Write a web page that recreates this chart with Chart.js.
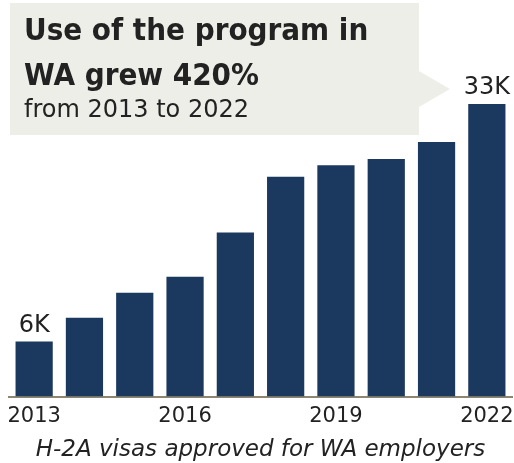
<!DOCTYPE html>
<html>
<head>
<meta charset="utf-8">
<script src="https://cdn.jsdelivr.net/npm/chart.js@4"></script>
<style>
  html, body { margin: 0; padding: 0; background: #fff; }
  #wrap { position: relative; width: 514px; height: 463px; overflow: hidden; }
  #wrap canvas { position: absolute; left: 0; top: 0; }
  /* callout box with its pointer */
  .callout {
    position: absolute; left: 10px; top: 3px; width: 409px; height: 132px;
    background: #eeeee9; font-family: "DejaVu Sans", sans-serif; color: #222;
  }
  .callout::after {
    content: ""; position: absolute; left: 409px; top: 68px;
    border-top: 18px solid transparent; border-bottom: 18px solid transparent;
    border-left: 31px solid #eeeee9;
  }
  .callout .hed {
    position: absolute; left: 14px; top: 4px; white-space: nowrap;
    font-family: "DejaVu Sans Condensed", "DejaVu Sans", sans-serif;
    font-size: 31px; font-weight: bold; line-height: 45px;
  }
  .callout .dek { position: absolute; left: 14px; top: 92px; white-space: nowrap; font-size: 24px; line-height: 28px; }
</style>
</head>
<body>
<div id="wrap">
  <canvas id="chart-visas"></canvas>
  <div class="callout">
    <div class="hed">Use of the program in<br>WA grew 420%</div>
    <div class="dek">from 2013 to 2022</div>
  </div>
</div>
<script>
/* ── Data ─────────────────────────────────────────────────────────── */
const years       = ['2013', '2014', '2015', '2016', '2017', '2018', '2019', '2020', '2021', '2022'];
const visas       = [6200, 8900, 11700, 13500, 18500, 24800, 26100, 26800, 28700, 33000];
const valueLabels = ['6K', '', '', '', '', '', '', '', '', '33K'];
const shownTicks  = ['2013', '2016', '2019', '2022'];
const caption     = 'H-2A visas approved for WA employers';

const BAR  = '#1b385e';
const AXIS = '#8c8672';
const INK  = '#222';
const FONT = '"DejaVu Sans", sans-serif';

/* first / last value labels above the bars */
const valueLabelPlugin = {
  id: 'valueLabels',
  afterDatasetsDraw(chart) {
    const { ctx } = chart;
    const meta = chart.getDatasetMeta(0);
    ctx.save();
    ctx.font = `24px ${FONT}`;
    ctx.fillStyle = INK;
    ctx.textAlign = 'center';
    ctx.textBaseline = 'alphabetic';
    meta.data.forEach((bar, i) => {
      if (!valueLabels[i]) return;
      ctx.fillText(valueLabels[i], bar.x, bar.y - 10);
    });
    ctx.restore();
  },
};

new Chart(document.getElementById('chart-visas'), {
  type: 'bar',
  data: {
    labels: years,
    datasets: [{
      label: 'H-2A visas',
      data: visas,
      backgroundColor: BAR,
      borderWidth: 0,
      barPercentage: 0.74,
      categoryPercentage: 1,
    }],
  },
  options: {
    responsive: true,
    maintainAspectRatio: false,
    animation: false,
    layout: { padding: { left: 9, right: 2, top: 104, bottom: 0 } },
    plugins: {
      legend:  { display: false },
      tooltip: { enabled: false },
      title: {
        display: true,
        position: 'bottom',
        text: caption,
        color: INK,
        font: { family: FONT, size: 23, style: 'italic', weight: 'normal', lineHeight: 1.15 },
        padding: { top: 10, bottom: 0 },
      },
    },
    scales: {
      x: {
        grid:   { display: false, drawTicks: false },
        border: { display: true, color: AXIS, width: 2 },
        ticks: {
          autoSkip: false,
          maxRotation: 0,
          padding: 7,
          color: INK,
          font: { family: FONT, size: 21 },
          callback: function (v) {
            const l = this.getLabelForValue(v);
            return shownTicks.includes(l) ? l : '';
          },
        },
        afterFit: s => { s.height = 30; s.paddingLeft = 0; s.paddingRight = 0; },
      },
      y: { display: false, min: 0, max: 33000 },
    },
  },
  plugins: [valueLabelPlugin],
});
</script>
</body>
</html>
